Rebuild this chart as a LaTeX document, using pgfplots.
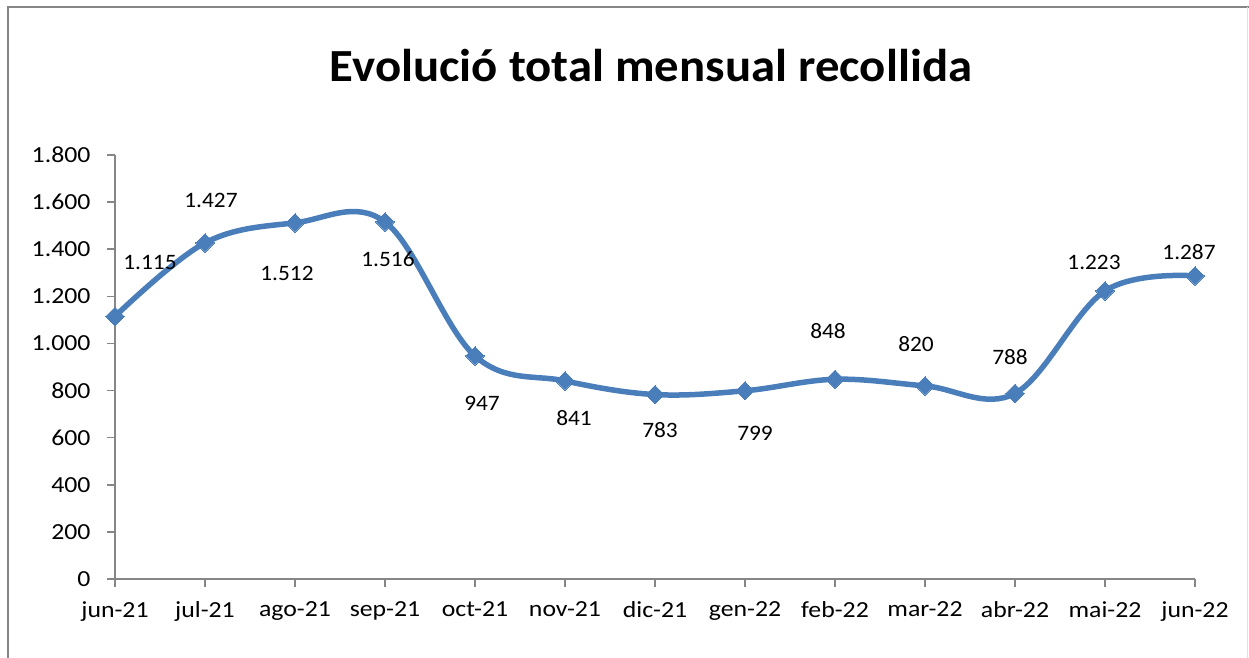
\documentclass[border=0pt]{standalone}
\usepackage{pgfplots}
\pgfplotsset{compat=1.18}
\usepackage{pgfplotstable}
\usepackage{fontspec}
\setmainfont{Carlito}
\newfontfamily\tickfont[FakeStretch=1.12]{Carlito}
\newfontfamily\labfont[FakeStretch=1.06]{Carlito}
\newfontfamily\titlefont[FakeStretch=1.06]{Carlito}
\definecolor{serie}{HTML}{4A7EBB}
\definecolor{axisgray}{HTML}{868686}

\pgfplotstableread{
x y lab dx dy
0 1115 1.115 35 54
1 1427 1.427 6 42
2 1512 1.512 -8 -51
3 1516 1.516 3 -37
4 947 947 7 -47
5 841 841 9 -37
6 783 783 5 -36
7 799 799 10 -43
8 848 848 -7 48
9 820 820 -9 42
10 788 788 -5 36
11 1223 1.223 -11 28
12 1287 1.287 -6 24
}\datatable

\begin{document}
\begin{tikzpicture}[x=1pt,y=1pt]
\useasboundingbox (0,0) rectangle (1249,657);
\begin{scope}
\clip (0,0) rectangle (1249,657);
\draw[axisgray, line width=2.5pt] (8,-5) -- (8,650) -- (1249,650);
\draw[black!12, line width=1pt] (1247.5,650) -- (1247.5,-5);
\end{scope}
\node[anchor=base, inner sep=0pt, font=\titlefont\fontsize{46}{52}\selectfont\bfseries] at (651,575) {Evolució total mensual recollida};
\begin{axis}[
  at={(115pt,78pt)}, anchor=south west,
  scale only axis, width=1080pt, height=424pt,
  xmin=0, xmax=12, ymin=0, ymax=1800,
  axis lines*=left,
  axis line style={axisgray, line width=1.5pt},
  tick style={axisgray, line width=1.5pt},
  tick align=outside, major tick length=8pt,
  xtick={0,...,12},
  xticklabels={jun-21,jul-21,ago-21,sep-21,oct-21,nov-21,dic-21,gen-22,feb-22,mar-22,abr-22,mai-22,jun-22},
  ytick={0,200,...,1800},
  /pgf/number format/.cd, 1000 sep={.}, assume math mode=true,
  /pgfplots/.cd,
  tick label style={font=\tickfont\fontsize{23}{27}\selectfont, black},
  yticklabel style={xshift=-13pt},
  xticklabel style={yshift=-11pt},
  clip=false,
  nodes near coords,
  point meta=explicit symbolic,
  visualization depends on={\thisrow{dx} \as \dx},
  visualization depends on={\thisrow{dy} \as \dy},
  nodes near coords style={anchor=center, xshift=\dx pt, yshift=\dy pt, font=\labfont\fontsize{22}{26}\selectfont, black},
]
\addplot[serie, line width=5.5pt, smooth, tension=0.6, mark=square*, mark size=6.5pt, mark options={rotate=45, fill=serie, draw=serie, line width=0pt}]
  table[x=x, y=y, meta=lab] {\datatable};
\end{axis}
\end{tikzpicture}
\end{document}
